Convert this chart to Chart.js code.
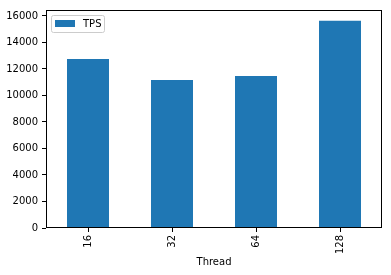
<!DOCTYPE html>
<html>
<head>
<meta charset="utf-8">
<script src="https://cdn.jsdelivr.net/npm/chart.js@4/dist/chart.umd.min.js"></script>
<style>
  html, body { margin: 0; padding: 0; background: #fff; }
  #wrap { width: 391px; height: 275px; position: relative; }
</style>
</head>
<body>
<div id="wrap"><canvas id="chart"></canvas></div>
<script>
// data
var threads = ['16', '32', '64', '128'];
var tps = [12750, 11170, 11470, 15640];
var seriesName = 'TPS';
var axisTitle = 'Thread';
var yMax = 16450;
var yTicks = [0, 2000, 4000, 6000, 8000, 10000, 12000, 14000, 16000];

var barColor = '#1f77b4';
var fontFamily = '"DejaVu Sans", sans-serif';
var fontSize = 10;

// full box around the plot area, like matplotlib
var frame = {
    id: 'frame',
    afterDatasetsDraw: function(chart) {
        var a = chart.chartArea;
        var ctx = chart.ctx;
        ctx.save();
        ctx.strokeStyle = '#000';
        ctx.lineWidth = 1;
        ctx.strokeRect(Math.round(a.left) + 0.5, Math.round(a.top) + 0.5,
            Math.round(a.right - a.left) - 1, Math.round(a.bottom - a.top) - 1);
        ctx.restore();
    }
};

// legend drawn inside the plot, top left
var innerLegend = {
    id: 'innerLegend',
    afterDraw: function(chart) {
        var a = chart.chartArea;
        var ctx = chart.ctx;
        var x = a.left + 5.5, y = a.top + 5.5, w = 53, h = 17;
        ctx.save();
        ctx.fillStyle = 'rgba(255,255,255,0.8)';
        ctx.strokeStyle = '#cccccc';
        ctx.lineWidth = 1;
        ctx.beginPath();
        ctx.roundRect(x, y, w, h, 2);
        ctx.fill();
        ctx.stroke();
        ctx.fillStyle = chart.data.datasets[0].backgroundColor;
        ctx.fillRect(a.left + 9, a.top + 10, 20, 7);
        ctx.fillStyle = '#000';
        ctx.font = fontSize + 'px ' + fontFamily;
        ctx.textBaseline = 'middle';
        ctx.fillText(chart.data.datasets[0].label, a.left + 37, a.top + 14);
        ctx.restore();
    }
};

new Chart(document.getElementById('chart'), {
    type: 'bar',
    data: {
        labels: threads,
        datasets: [{
            label: seriesName,
            data: tps,
            backgroundColor: barColor,
            borderWidth: 0,
            categoryPercentage: 1,
            barPercentage: 0.5
        }]
    },
    options: {
        responsive: true,
        maintainAspectRatio: false,
        animation: false,
        layout: { padding: { left: 0, right: 9, top: 10, bottom: 7 } },
        plugins: {
            legend: { display: false },
            tooltip: { enabled: false }
        },
        scales: {
            x: {
                afterFit: function(scale) { scale.height = 40; },
                border: { display: false },
                grid: { display: true, drawOnChartArea: false, drawTicks: true, tickLength: 4, color: '#000', offset: false },
                ticks: {
                    color: '#000',
                    font: { family: fontFamily, size: fontSize },
                    minRotation: 90,
                    maxRotation: 90,
                    padding: 3
                },
                title: {
                    display: true,
                    text: axisTitle,
                    color: '#000',
                    font: { family: fontFamily, size: fontSize },
                    padding: 0
                }
            },
            y: {
                min: 0,
                max: yMax,
                afterFit: function(scale) { scale.width = 46; },
                afterBuildTicks: function(scale) {
                    scale.ticks = yTicks.map(function(v) { return { value: v }; });
                },
                border: { display: false },
                grid: { display: true, drawOnChartArea: false, drawTicks: true, tickLength: 4, color: '#000' },
                ticks: {
                    color: '#000',
                    font: { family: fontFamily, size: fontSize },
                    padding: 4,
                    callback: function(v) { return String(v); }
                }
            }
        }
    },
    plugins: [frame, innerLegend]
});
</script>
</body>
</html>
